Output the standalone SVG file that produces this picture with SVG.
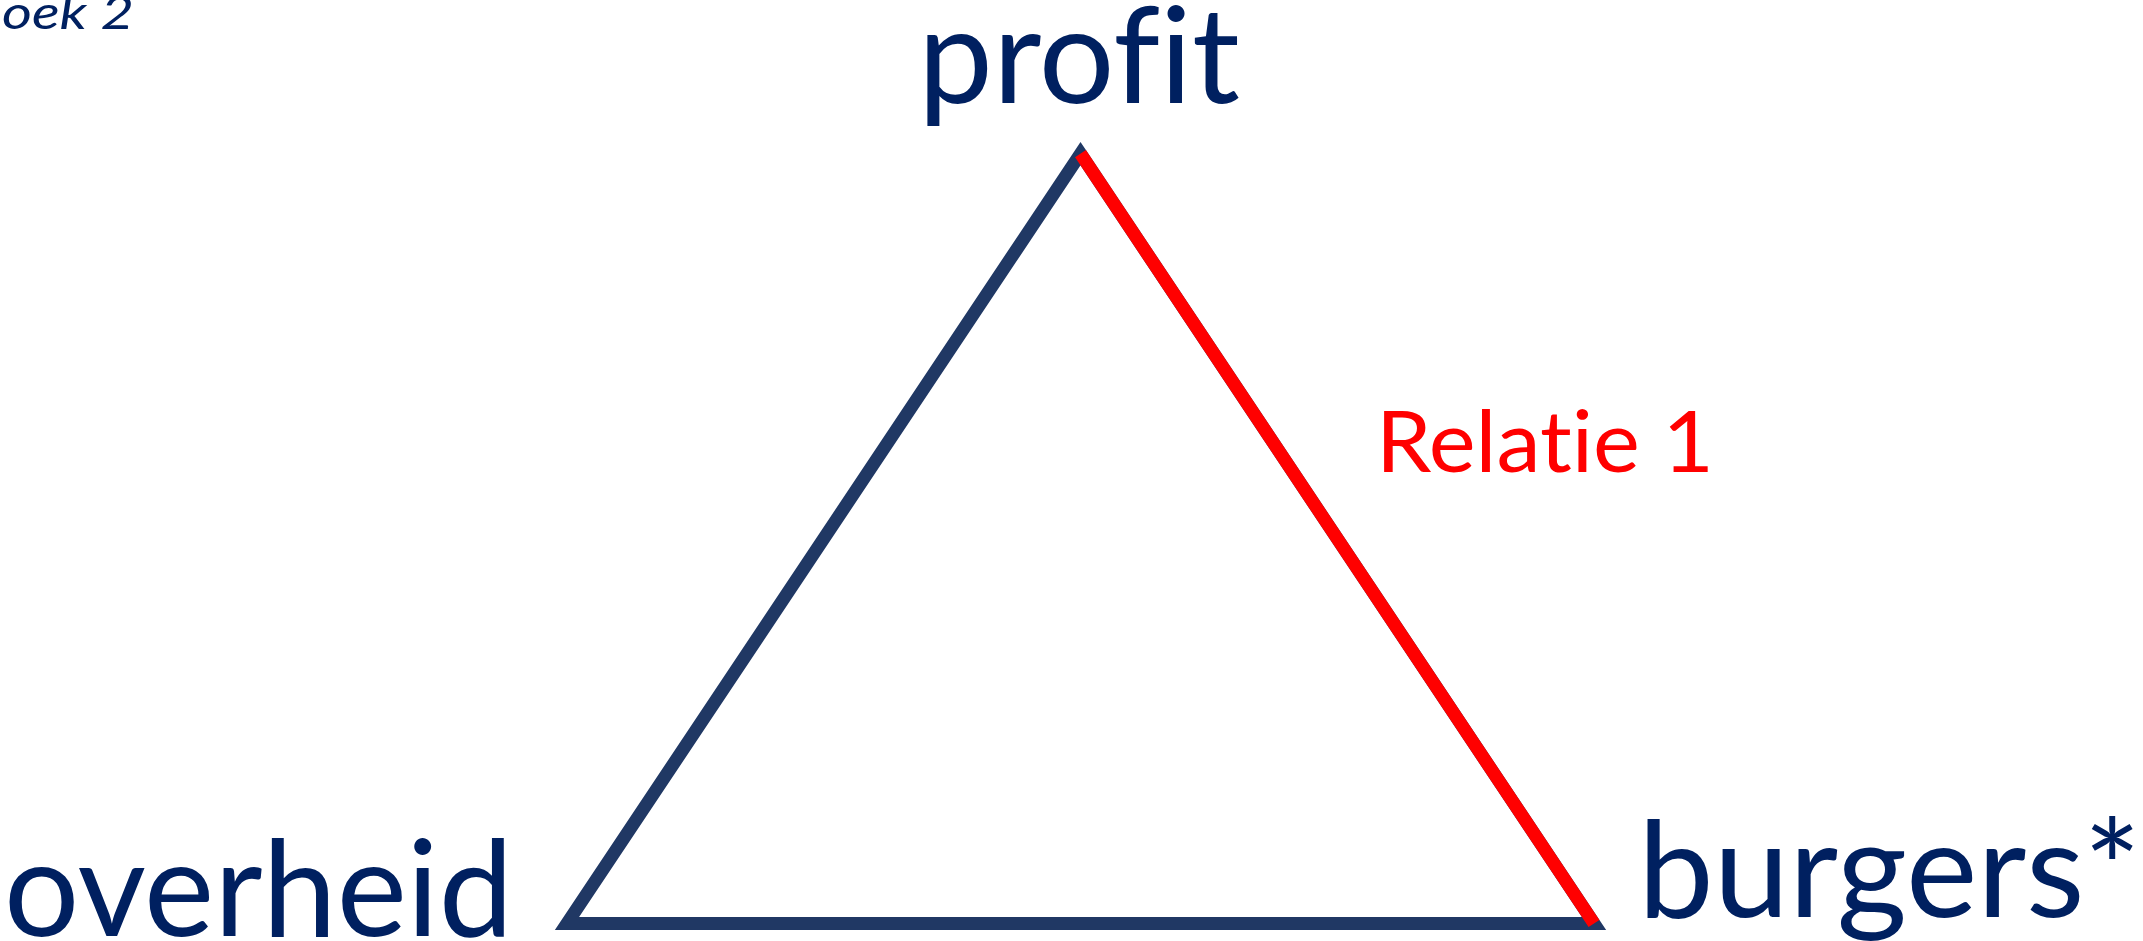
<svg xmlns="http://www.w3.org/2000/svg" width="2143" height="941" viewBox="0 0 2143 941">
  <style>
    text { font-variant-ligatures: none; font-feature-settings: "liga" 0, "clig" 0, "dlig" 0; }
    .lbl { font-family: Lato, "Open Sans", "Liberation Sans", sans-serif; fill: #002060; }
    .big { font-size: 134px; }
    .edge { fill: none; stroke: #203864; stroke-width: 13; stroke-linejoin: miter; stroke-miterlimit: 10; }
    .rel { stroke: #FF0000; stroke-width: 13; stroke-linecap: butt; fill: none; }
    .rellbl { font-family: Lato, "Open Sans", "Liberation Sans", sans-serif; fill: #FF0000; font-size: 86px; }
  </style>
  <rect width="2143" height="941" fill="#FFFFFF"/>
  <text class="lbl" x="2" y="29" font-size="46" font-style="italic" textLength="132" lengthAdjust="spacingAndGlyphs">oek 2</text>
  <g id="connectors">
    <polygon class="edge" points="1080.5,153.7 1594,923.5 567,923.5"/>
    <line class="rel" x1="1080.5" y1="153.7" x2="1594" y2="923.5"/>
    <text class="rellbl" x="1376" y="471.5" textLength="338" lengthAdjust="spacingAndGlyphs">Relatie 1</text>
  </g>
  <g id="node-profit">
    <text class="lbl big" x="918" y="103" textLength="322" lengthAdjust="spacingAndGlyphs">profit</text>
  </g>
  <g id="node-overheid">
    <text class="lbl big" x="4" y="936" textLength="509" lengthAdjust="spacingAndGlyphs">overheid</text>
  </g>
  <g id="node-burgers">
    <text class="lbl big" x="1638" y="917" textLength="503" lengthAdjust="spacingAndGlyphs">burgers*</text>
  </g>
</svg>
